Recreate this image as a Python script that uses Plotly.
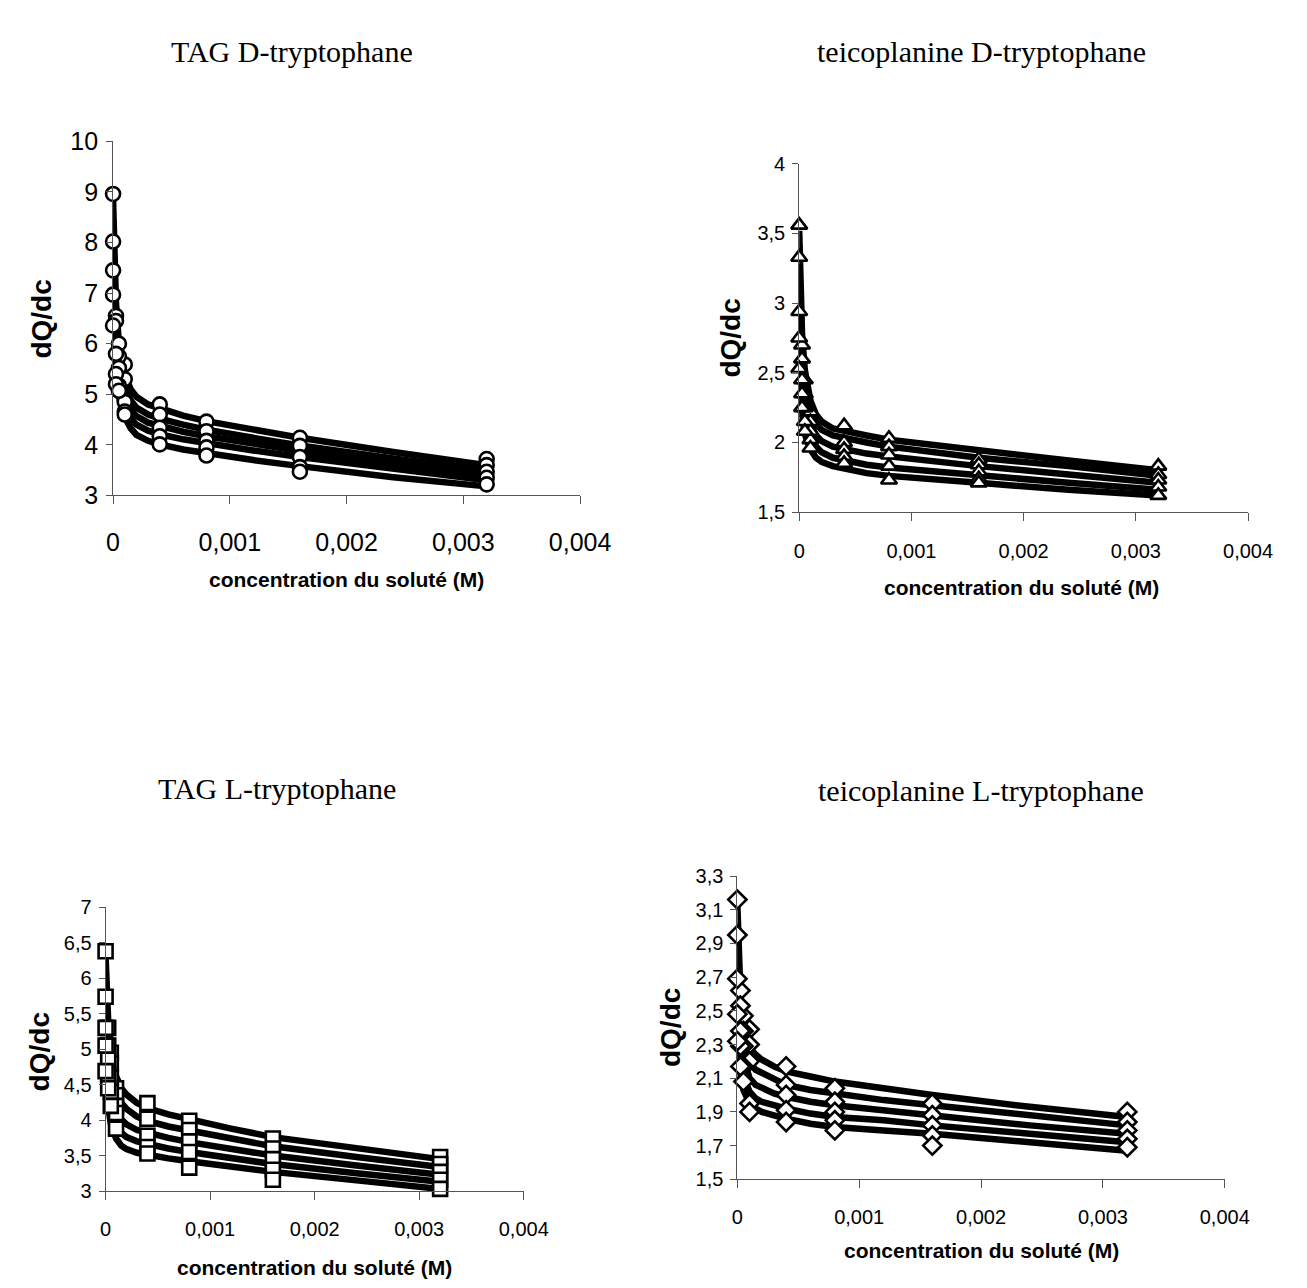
import plotly.graph_objects as go

# ---------------- data ----------------
conc_fit = [0, 0.0000125, 0.000025, 0.00005, 0.0001, 0.00015, 0.0002, 0.0003,
            0.0004, 0.0006, 0.0008, 0.0012, 0.0016, 0.0024, 0.0032]
conc_exp = [0, 0.000025, 0.00005, 0.0001, 0.0004, 0.0008, 0.0016, 0.0032]

titles = ["TAG D-tryptophane", "teicoplanine D-tryptophane",
          "TAG L-tryptophane", "teicoplanine L-tryptophane"]
y_title = "dQ/dc"
x_title = "concentration du soluté (M)"

# TAG D-tryptophane
tagD_fit = [
    [8.86, 7.60, 6.80, 6.00, 5.40, 5.10, 4.95, 4.80, 4.72, 4.58, 4.47, 4.30, 4.14, 3.86, 3.60],
    [8.00, 7.00, 6.35, 5.70, 5.15, 4.88, 4.74, 4.60, 4.52, 4.40, 4.30, 4.14, 3.99, 3.73, 3.50],
    [7.40, 6.60, 6.05, 5.45, 4.95, 4.70, 4.57, 4.44, 4.37, 4.26, 4.17, 4.02, 3.88, 3.63, 3.40],
    [6.90, 6.20, 5.75, 5.20, 4.75, 4.52, 4.40, 4.28, 4.21, 4.11, 4.03, 3.89, 3.76, 3.52, 3.30],
    [6.40, 5.80, 5.40, 4.95, 4.55, 4.33, 4.20, 4.08, 4.01, 3.91, 3.83, 3.70, 3.58, 3.36, 3.18],
]
tagD_exp = [
    [8.96, 6.55, 6.00, 5.59, 4.80, 4.46, 4.14, 3.72],
    [8.02, 6.45, 5.75, 5.30, 4.60, 4.27, 3.98, 3.60],
    [7.45, 5.80, 5.52, 4.85, 4.34, 4.08, 3.76, 3.47],
    [6.97, 5.40, 5.17, 4.66, 4.17, 3.95, 3.56, 3.35],
    [6.36, 5.20, 5.07, 4.60, 4.01, 3.79, 3.47, 3.22],
]

# teicoplanine D-tryptophane
teiD_fit = [
    [3.52, 3.05, 2.78, 2.52, 2.30, 2.20, 2.15, 2.10, 2.08, 2.05, 2.02, 1.98, 1.94, 1.87, 1.80],
    [3.28, 2.90, 2.65, 2.42, 2.22, 2.13, 2.09, 2.05, 2.03, 2.00, 1.97, 1.93, 1.89, 1.83, 1.76],
    [2.92, 2.65, 2.48, 2.30, 2.13, 2.05, 2.01, 1.97, 1.95, 1.92, 1.90, 1.86, 1.83, 1.77, 1.71],
    [2.72, 2.50, 2.35, 2.18, 2.04, 1.97, 1.93, 1.89, 1.87, 1.84, 1.82, 1.79, 1.76, 1.71, 1.66],
    [2.50, 2.32, 2.20, 2.06, 1.95, 1.89, 1.86, 1.83, 1.81, 1.78, 1.76, 1.73, 1.71, 1.66, 1.62],
]
teiD_exp = [
    [3.56, 2.70, 2.45, 2.22, 2.12, 2.03, 1.88, 1.83],
    [3.33, 2.60, 2.35, 2.15, 2.00, 1.97, 1.84, 1.77],
    [2.94, 2.45, 2.25, 2.08, 1.95, 1.91, 1.79, 1.73],
    [2.75, 2.35, 2.15, 2.02, 1.90, 1.83, 1.74, 1.68],
    [2.53, 2.25, 2.08, 1.96, 1.85, 1.73, 1.71, 1.62],
]

# TAG L-tryptophane
tagL_fit = [
    [6.30, 5.80, 5.40, 5.00, 4.62, 4.45, 4.36, 4.24, 4.17, 4.08, 4.01, 3.88, 3.76, 3.60, 3.45],
    [5.75, 5.30, 5.00, 4.68, 4.38, 4.24, 4.16, 4.05, 3.99, 3.91, 3.85, 3.73, 3.63, 3.48, 3.34],
    [5.30, 4.95, 4.70, 4.42, 4.14, 4.01, 3.94, 3.86, 3.82, 3.75, 3.69, 3.59, 3.50, 3.36, 3.23],
    [5.05, 4.72, 4.48, 4.20, 3.95, 3.82, 3.76, 3.70, 3.66, 3.60, 3.55, 3.46, 3.38, 3.25, 3.13],
    [4.70, 4.42, 4.20, 3.95, 3.74, 3.64, 3.59, 3.54, 3.51, 3.46, 3.42, 3.34, 3.27, 3.15, 3.03],
]
tagL_exp = [
    [6.38, 5.30, 4.95, 4.45, 4.24, 3.99, 3.74, 3.48],
    [5.74, 5.05, 4.80, 4.35, 4.02, 3.86, 3.60, 3.38],
    [5.30, 4.85, 4.60, 4.20, 3.78, 3.70, 3.45, 3.27],
    [5.05, 4.65, 4.40, 4.10, 3.62, 3.55, 3.30, 3.16],
    [4.69, 4.45, 4.20, 3.88, 3.53, 3.33, 3.16, 3.03],
]

# teicoplanine L-tryptophane
teiL_fit = [
    [3.13, 2.80, 2.60, 2.42, 2.28, 2.24, 2.21, 2.17, 2.14, 2.11, 2.08, 2.04, 2.00, 1.93, 1.87],
    [2.92, 2.65, 2.48, 2.32, 2.19, 2.15, 2.13, 2.09, 2.06, 2.03, 2.01, 1.97, 1.94, 1.88, 1.82],
    [2.69, 2.48, 2.35, 2.22, 2.10, 2.06, 2.04, 2.01, 1.99, 1.96, 1.94, 1.91, 1.88, 1.82, 1.77],
    [2.48, 2.32, 2.22, 2.11, 2.02, 1.98, 1.96, 1.94, 1.92, 1.89, 1.87, 1.85, 1.82, 1.77, 1.72],
    [2.32, 2.20, 2.12, 2.03, 1.95, 1.92, 1.90, 1.88, 1.86, 1.83, 1.81, 1.79, 1.77, 1.72, 1.67],
]
teiL_exp = [
    [3.16, 2.62, 2.47, 2.39, 2.17, 2.04, 1.95, 1.90],
    [2.95, 2.53, 2.38, 2.30, 2.06, 1.96, 1.88, 1.84],
    [2.69, 2.38, 2.29, 2.20, 2.00, 1.90, 1.82, 1.79],
    [2.48, 2.29, 2.17, 1.95, 1.91, 1.85, 1.76, 1.74],
    [2.32, 2.17, 2.08, 1.90, 1.84, 1.79, 1.70, 1.69],
]

y_ranges = [[3, 10], [1.5, 4], [3, 7], [1.5, 3.3]]
y_dticks = [1, 0.5, 0.5, 0.2]
symbols = ["circle", "triangle-up", "square", "diamond"]

# ---------------- layout (pixel geometry) ----------------
W, H = 1307, 1288
SANS = "Liberation Sans, Arial, sans-serif"
SERIF = "Liberation Serif, Times New Roman, serif"

# plot-area pixel boxes: (x0, x1, ytop, ybottom)
boxes = [(101, 582, 122, 484), (807.7, 1270, 145, 501),
         (93.3, 524, 905, 1195), (744, 1246, 873, 1183)]
tick_font = [25, 20, 20, 20]
x_standoff = [17, 13, 12, 12]
title_pos = [(285, 30), (995, 30), (270, 784), (995, 786)]
xtitle_pos = [(341, 570), (1037, 578), (308, 1273), (995, 1256)]
ytitle_pos = [(27, 304), (737, 323), (25, 1053), (675, 1028)]

fits = [tagD_fit, teiD_fit, tagL_fit, teiL_fit]
exps = [tagD_exp, teiD_exp, tagL_exp, teiL_exp]

fig = go.Figure()
layout = dict(width=W, height=H, autosize=False,
              margin=dict(l=0, r=0, t=0, b=0),
              paper_bgcolor="white", plot_bgcolor="white",
              showlegend=False, separators=", ",
              font=dict(family=SANS, color="black"))
annotations = []

for i in range(4):
    n = i + 1
    xa = "x" if n == 1 else f"x{n}"
    ya = "y" if n == 1 else f"y{n}"
    x0, x1, yt, yb = boxes[i]
    for curve in fits[i]:
        fig.add_trace(go.Scatter(x=conc_fit, y=curve, mode="lines",
                                 line=dict(color="black", width=6.5),
                                 xaxis=xa, yaxis=ya, hoverinfo="skip"))
    for pts in exps[i]:
        fig.add_trace(go.Scatter(x=conc_exp, y=pts, mode="markers",
                                 marker=dict(symbol=symbols[i], size=14,
                                             color="white",
                                             line=dict(color="black", width=2.6)),
                                 cliponaxis=False,
                                 xaxis=xa, yaxis=ya))
    layout["xaxis" if n == 1 else f"xaxis{n}"] = dict(
        domain=[x0 / W, x1 / W], anchor=ya, range=[0, 0.004], dtick=0.001,
        tick0=0, showgrid=False, zeroline=False, showline=True,
        linecolor="#555", linewidth=1, ticks="outside", ticklen=8,
        tickcolor="#555", tickwidth=1,
        tickfont=dict(family=SANS, size=tick_font[i], color="black"),
        ticklabelstandoff=x_standoff[i], exponentformat="none")
    layout["yaxis" if n == 1 else f"yaxis{n}"] = dict(
        domain=[1 - yb / H, 1 - yt / H], anchor=xa, range=y_ranges[i],
        dtick=y_dticks[i], tick0=y_ranges[i][0], showgrid=False,
        zeroline=False, showline=True, linecolor="#555", linewidth=1,
        ticks="outside", ticklen=6, tickcolor="#555", tickwidth=1,
        tickfont=dict(family=SANS, size=tick_font[i], color="black"),
        ticklabelstandoff=3)
    tx, ty = title_pos[i]
    annotations.append(dict(text=titles[i], x=tx / W, y=1 - ty / H,
                            xref="paper", yref="paper", showarrow=False,
                            xanchor="center", yanchor="middle",
                            font=dict(family=SERIF, size=30, color="black")))
    ax, ay = xtitle_pos[i]
    annotations.append(dict(text="<b>" + x_title + "</b>", x=ax / W, y=1 - ay / H,
                            xref="paper", yref="paper", showarrow=False,
                            xanchor="center", yanchor="middle",
                            font=dict(family=SANS, size=21, color="black")))
    bx, by = ytitle_pos[i]
    annotations.append(dict(text="<b>" + y_title + "</b>", x=bx / W, y=1 - by / H,
                            xref="paper", yref="paper", showarrow=False,
                            xanchor="center", yanchor="middle", textangle=-90,
                            font=dict(family=SANS, size=28, color="black")))

layout["annotations"] = annotations
fig.update_layout(**layout)
fig.write_html("out.html")
